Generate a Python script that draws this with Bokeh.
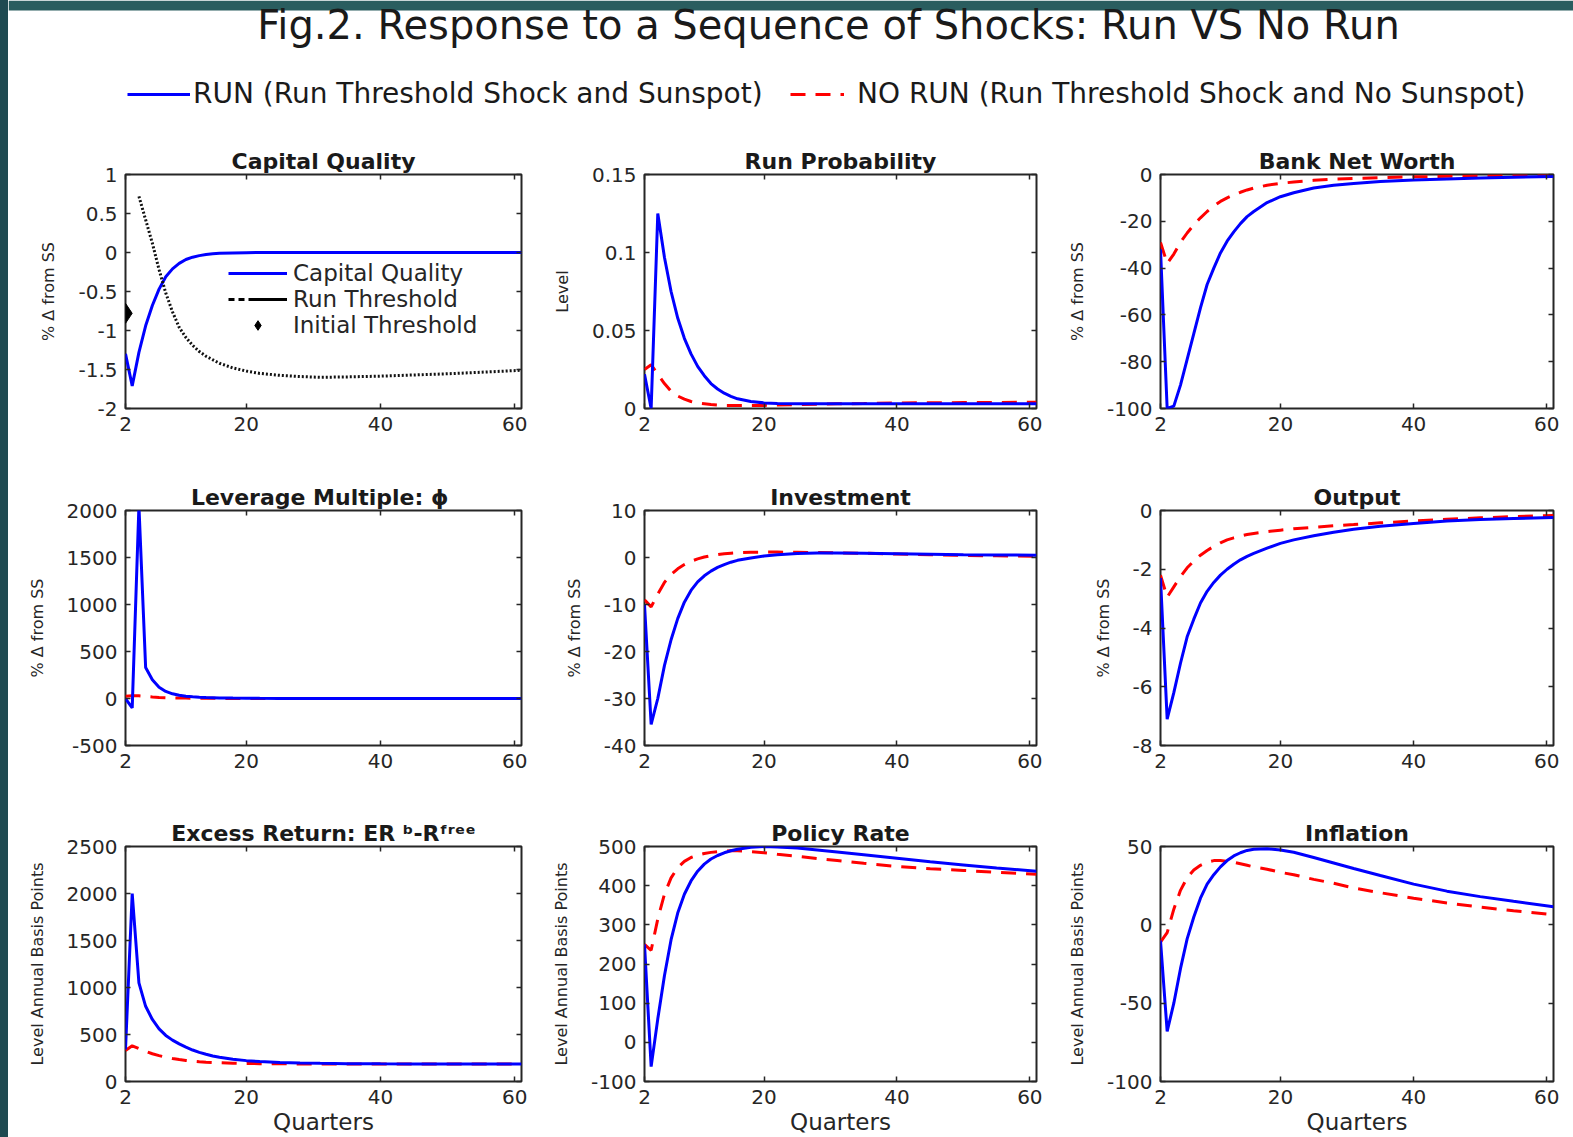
from bokeh.plotting import figure
from bokeh.models import (Range1d, FixedTicker, LinearAxis, CustomJSTickFormatter, CustomLabelingPolicy,
                          Legend, LegendItem, ColumnDataSource, Label, BoxAnnotation, Spacer)
from bokeh.layouts import column, row
from bokeh.embed import file_html
from bokeh.resources import INLINE

FONT = "DejaVu Sans"
INK = "#262626"
BLUE = "#0000ff"
RED = "#ff0000"
TEAL_LEFT = "#1f4a51"
TEAL_TOP = "#2a5d5f"

# ---------------- data ----------------
Q = [2, 3, 4, 5, 6, 7, 8, 9, 10, 11, 12, 13, 14, 15, 16, 18, 20, 22, 25, 28, 31, 35, 40, 45, 50, 55, 61]
XTICKS = [2, 20, 40, 60]

CAPQ_RUN = [-1.30, -1.71, -1.28, -0.94, -0.68, -0.47, -0.31, -0.21, -0.14, -0.09, -0.06, -0.04, -0.025,
            -0.016, -0.01, -0.005, -0.002, 0, 0, 0, 0, 0, 0, 0, 0, 0, 0]
THRESH_Q = [4, 5, 6, 7, 8, 9, 10, 11, 12, 13, 14, 16, 18, 20, 22, 25, 28, 31, 35, 40, 45, 50, 55, 61]
THRESH = [0.72, 0.42, 0.12, -0.22, -0.52, -0.76, -0.96, -1.09, -1.19, -1.27, -1.33, -1.42, -1.48, -1.52,
          -1.55, -1.575, -1.59, -1.60, -1.595, -1.585, -1.57, -1.555, -1.535, -1.51]
INIT_Q = [2]
INIT_THRESH = [-0.78]

RUNPROB_RUN = [0.022, 0.0, 0.125, 0.097, 0.075, 0.058, 0.045, 0.035, 0.027, 0.021, 0.016, 0.0125, 0.0098,
               0.0078, 0.0062, 0.0045, 0.0036, 0.0032, 0.003, 0.003, 0.003, 0.003, 0.003, 0.003, 0.003, 0.003, 0.003]
RUNPROB_NORUN = [0.025, 0.028, 0.022, 0.016, 0.011, 0.008, 0.006, 0.0045, 0.0035, 0.003, 0.0025, 0.0022, 0.002,
                 0.002, 0.002, 0.002, 0.002, 0.0022, 0.0025, 0.0027, 0.003, 0.0032, 0.0035, 0.0037, 0.0038, 0.0039, 0.004]

NW_RUN = [-32, -100, -99, -90, -79, -68, -57, -47, -40, -33.5, -28.5, -24.5, -21, -18, -15.8, -12, -9.5, -7.8,
          -5.8, -4.6, -3.8, -3.0, -2.4, -1.9, -1.5, -1.2, -0.9]
NW_NORUN = [-29, -38, -34, -29, -25, -21.5, -18.5, -15.8, -13.5, -11.5, -10, -8.7, -7.6, -6.6, -5.8, -4.6, -3.8,
            -3.2, -2.5, -2.0, -1.7, -1.35, -1.0, -0.8, -0.65, -0.55, -0.45]

LEV_RUN = [0, -100, 2050, 330, 200, 120, 75, 50, 35, 25, 18, 13, 10, 8, 6, 4, 3, 2, 1, 0, 0, 0, 0, 0, 0, 0, 0]
LEV_NORUN = [25, 30, 28, 22, 16, 11, 8, 6, 5, 4, 3, 2.5, 2, 2, 1.5, 1, 1, 0.5, 0, 0, 0, 0, 0, 0, 0, 0, 0]

INV_RUN = [-10, -35.5, -30, -23, -17.5, -13, -9.5, -7, -5.2, -3.9, -2.9, -2.1, -1.5, -1.0, -0.6, -0.1, 0.3, 0.6,
           0.85, 0.95, 0.95, 0.9, 0.8, 0.7, 0.6, 0.55, 0.5]
INV_NORUN = [-9, -10.5, -7.8, -5.3, -3.6, -2.4, -1.5, -0.8, -0.3, 0.1, 0.4, 0.6, 0.8, 0.9, 1.0, 1.1, 1.15, 1.15,
             1.1, 1.05, 1.0, 0.9, 0.75, 0.6, 0.45, 0.35, 0.25]

OUT_RUN = [-2.3, -7.1, -6.2, -5.2, -4.3, -3.7, -3.15, -2.75, -2.45, -2.2, -2.0, -1.83, -1.68, -1.56, -1.46, -1.28,
           -1.12, -1.0, -0.86, -0.74, -0.64, -0.54, -0.44, -0.36, -0.31, -0.27, -0.24]
OUT_NORUN = [-2.2, -2.95, -2.6, -2.25, -1.95, -1.72, -1.52, -1.36, -1.22, -1.1, -1.0, -0.93, -0.87, -0.82, -0.78,
             -0.72, -0.67, -0.62, -0.57, -0.52, -0.48, -0.42, -0.36, -0.3, -0.25, -0.21, -0.17]

ER_RUN = [340, 2000, 1050, 800, 660, 560, 490, 440, 400, 365, 335, 310, 290, 272, 258, 237, 222, 212, 202, 196,
          193, 190, 188, 187, 186, 185, 185]
ER_NORUN = [330, 380, 350, 320, 295, 275, 258, 244, 233, 224, 217, 211, 206, 202, 199, 195, 192, 190, 188, 187,
            186, 185, 185, 185, 185, 185, 185]

POL_RUN = [250, -62, 60, 170, 262, 330, 378, 412, 437, 455, 468, 477, 484, 489, 493, 498, 500, 499, 496, 491, 486,
           479, 470, 461, 453, 445, 437]
POL_NORUN = [250, 235, 315, 378, 420, 446, 462, 472, 478, 482, 485, 487, 488, 489, 489, 487, 484, 480, 475, 469,
             464, 457, 449, 443, 439, 434, 429]

INF_RUN = [-10, -68, -50, -28, -9, 5, 17, 26, 32, 37, 41, 44, 46, 47.5, 48.3, 48.5, 47.8, 46.3, 43, 39.5, 36, 31.5,
           26, 21.5, 18, 15, 11.5]
INF_NORUN = [-11, -5, 10, 22, 30, 35, 38, 40, 41, 41, 40.5, 40, 39, 38, 37, 35.5, 33.5, 32, 29, 26.5, 23.5, 20.5,
             17, 14, 11.3, 9, 6.5]

FIG_TITLE = "Fig.2. Response to a Sequence of Shocks: Run VS No Run"
RUN_LABEL = "RUN (Run Threshold Shock and Sunspot)"
NORUN_LABEL = "NO RUN (Run Threshold Shock and No Sunspot)"

PANELS = [
    ("Capital Quality", -2, 1, [-2, -1.5, -1, -0.5, 0, 0.5, 1], "% \u0394 from SS", None, CAPQ_RUN, None),
    ("Run Probability", 0, 0.15, [0, 0.05, 0.1, 0.15], "Level", None, RUNPROB_RUN, RUNPROB_NORUN),
    ("Bank Net Worth", -100, 0, [-100, -80, -60, -40, -20, 0], "% \u0394 from SS", None, NW_RUN, NW_NORUN),
    ("Leverage Multiple:  \u03d5", -500, 2000, [-500, 0, 500, 1000, 1500, 2000], "% \u0394 from SS", None, LEV_RUN, LEV_NORUN),
    ("Investment", -40, 10, [-40, -30, -20, -10, 0, 10], "% \u0394 from SS", None, INV_RUN, INV_NORUN),
    ("Output", -8, 0, [-8, -6, -4, -2, 0], "% \u0394 from SS", None, OUT_RUN, OUT_NORUN),
    ("Excess Return: ER \u1d47-R\u1da0\u02b3\u1d49\u1d49", 0, 2500, [0, 500, 1000, 1500, 2000, 2500],
     "Level Annual Basis Points", "Quarters", ER_RUN, ER_NORUN),
    ("Policy Rate", -100, 500, [-100, 0, 100, 200, 300, 400, 500], "Level Annual Basis Points", "Quarters", POL_RUN, POL_NORUN),
    ("Inflation", -100, 50, [-100, -50, 0, 50], "Level Annual Basis Points", "Quarters", INF_RUN, INF_NORUN),
]

# ---------------- layout geometry (page has no margin) ----------------
STRIP_W = 8
COL_W = [532, 512, 521]
COL_LR = [(117, 19), (104, 16), (108, 20)]
ROW_H = [336, 336, 335]
ROW_TB = [(44, 58), (44, 57), (44, 56)]
HEADER_H = 130
TOTAL_W = sum(COL_W)
PAGE_H = HEADER_H + sum(ROW_H)

fmt = CustomJSTickFormatter(code="return String(tick);")
no_labels = CustomLabelingPolicy(code="""
try { return new indices.constructor(indices.size, 0); } catch (e) { return indices; }
""")


def style_axis(ax, labels=True):
    ax.axis_line_color = None
    ax.major_tick_in = 5
    ax.major_tick_out = 0
    ax.minor_tick_line_color = None
    ax.major_tick_line_color = INK
    ax.major_tick_line_width = 1.5
    ax.major_label_text_font = FONT
    ax.major_label_text_color = INK
    ax.axis_label_text_font = FONT
    ax.axis_label_text_font_style = "normal"
    ax.axis_label_text_color = INK
    if labels:
        ax.major_label_text_font_size = "20px"
    else:
        ax.major_label_text_font_size = "0px"
        ax.major_label_standoff = 0
        ax.major_label_policy = no_labels


def make_panel(i, spec):
    title, ylo, yhi, yticks, ylabel, xlabel, run, norun = spec
    r, c = divmod(i, 3)
    ml, mr = COL_LR[c]
    mt, mb = ROW_TB[r]
    p = figure(width=COL_W[c], height=ROW_H[r], x_range=Range1d(2, 61), y_range=Range1d(ylo, yhi),
               output_backend="svg", toolbar_location=None, title=title,
               min_border_left=ml, min_border_right=mr, min_border_top=mt, min_border_bottom=mb)
    p.title.text_font = FONT
    p.title.text_font_size = "22px"
    p.title.text_font_style = "bold"
    p.title.text_color = "#1a1a1a"
    p.title.align = "center"
    p.title.standoff = 2
    p.outline_line_color = INK
    p.outline_line_width = 2
    p.grid.visible = False
    p.background_fill_color = "white"
    p.border_fill_color = "white"

    xa = p.xaxis[0]
    ya = p.yaxis[0]
    style_axis(xa)
    style_axis(ya)
    xa.ticker = FixedTicker(ticks=XTICKS)
    ya.ticker = FixedTicker(ticks=yticks)
    xa.formatter = fmt
    ya.formatter = fmt
    xa.major_label_standoff = 8
    ya.major_label_standoff = 8
    ya.axis_label = ylabel
    ya.axis_label_text_font_size = "16px"
    ya.axis_label_standoff = 17
    if xlabel:
        xa.axis_label = xlabel
        xa.axis_label_text_font_size = "23px"
        xa.axis_label_standoff = 2

    top = LinearAxis(ticker=FixedTicker(ticks=XTICKS))
    style_axis(top, labels=False)
    p.add_layout(top, "above")
    right = LinearAxis(ticker=FixedTicker(ticks=yticks))
    style_axis(right, labels=False)
    p.add_layout(right, "right")

    src = ColumnDataSource(dict(q=Q, run=run, norun=norun if norun else [None] * len(Q)))
    if norun is not None:
        p.line("q", "norun", source=src, line_color=RED, line_width=3, line_dash="15 10")
    rb = p.line("q", "run", source=src, line_color=BLUE, line_width=3)

    if i == 0:
        tsrc = ColumnDataSource(dict(q=THRESH_Q, v=THRESH))
        p.line("q", "v", source=tsrc, line_color="#111111", line_width=3, line_dash="2 2")
        # legend sample drawn in the dash-dot style of the reference legend
        tleg = p.line("q", "v", source=tsrc, line_color="black", line_width=3,
                      line_dash="6 4 6 4 60 1", visible=False)
        isrc = ColumnDataSource(dict(q=INIT_Q, v=INIT_THRESH))
        dia = p.scatter("q", "v", source=isrc, marker="diamond", size=20,
                        fill_color="black", line_color="black")
        leg = Legend(items=[LegendItem(label="Capital Quality", renderers=[rb]),
                            LegendItem(label="Run Threshold", renderers=[tleg]),
                            LegendItem(label="Initial Threshold", renderers=[dia])],
                     location=(103, 70))
        leg.label_text_font = FONT
        leg.label_text_font_size = "23px"
        leg.label_text_color = INK
        leg.glyph_width = 59
        leg.glyph_height = 24
        leg.label_height = 24
        leg.label_standoff = 6
        leg.spacing = -2
        leg.padding = 0
        leg.margin = 0
        leg.border_line_color = None
        leg.background_fill_alpha = 0
        p.add_layout(leg)
    return p


panels = [make_panel(i, s) for i, s in enumerate(PANELS)]

# ---------------- header (title + legend) ----------------
h = figure(width=TOTAL_W, height=HEADER_H, x_range=Range1d(0, TOTAL_W), y_range=Range1d(HEADER_H, 0),
           output_backend="svg", toolbar_location=None,
           min_border_left=0, min_border_right=0, min_border_top=0, min_border_bottom=0)
h.axis.visible = False
h.grid.visible = False
h.outline_line_color = None
h.border_fill_color = "white"
h.background_fill_color = "white"
h.add_layout(BoxAnnotation(left=0, right=TOTAL_W, top=0, bottom=10, fill_color=TEAL_TOP, fill_alpha=1,
                           line_color=None))
h.add_layout(Label(x=820, y=24, text=FIG_TITLE,
                   text_align="center", text_baseline="middle", text_font=FONT, text_font_size="40px",
                   text_color="#1a1a1a"))
src_run = ColumnDataSource(dict(q=Q, v=CAPQ_RUN))
hr1 = h.line("q", "v", source=src_run, line_color=BLUE, line_width=3, visible=False)
hr2 = h.line("q", "v", source=src_run, line_color=RED, line_width=3, line_dash="15 10", visible=False)
for rend, lab, loc, gw, so in [(hr1, RUN_LABEL, (119, 20), 63, 3), (hr2, NORUN_LABEL, (782, 20), 54, 13)]:
    lg = Legend(items=[LegendItem(label=lab, renderers=[rend])], location=loc)
    lg.label_text_font = FONT
    lg.label_text_font_size = "28px"
    lg.label_text_color = "#1a1a1a"
    lg.glyph_width = gw
    lg.glyph_height = 28
    lg.label_height = 28
    lg.label_standoff = so
    lg.padding = 0
    lg.margin = 0
    lg.spacing = 0
    lg.border_line_color = None
    lg.background_fill_alpha = 0
    h.add_layout(lg)

strip = Spacer(width=STRIP_W, height=PAGE_H, styles={"background-color": TEAL_LEFT})

layout = row(strip,
             column(h,
                    row(*panels[0:3]),
                    row(*panels[3:6]),
                    row(*panels[6:9])))

open("out.html", "w").write(file_html(layout, INLINE))
